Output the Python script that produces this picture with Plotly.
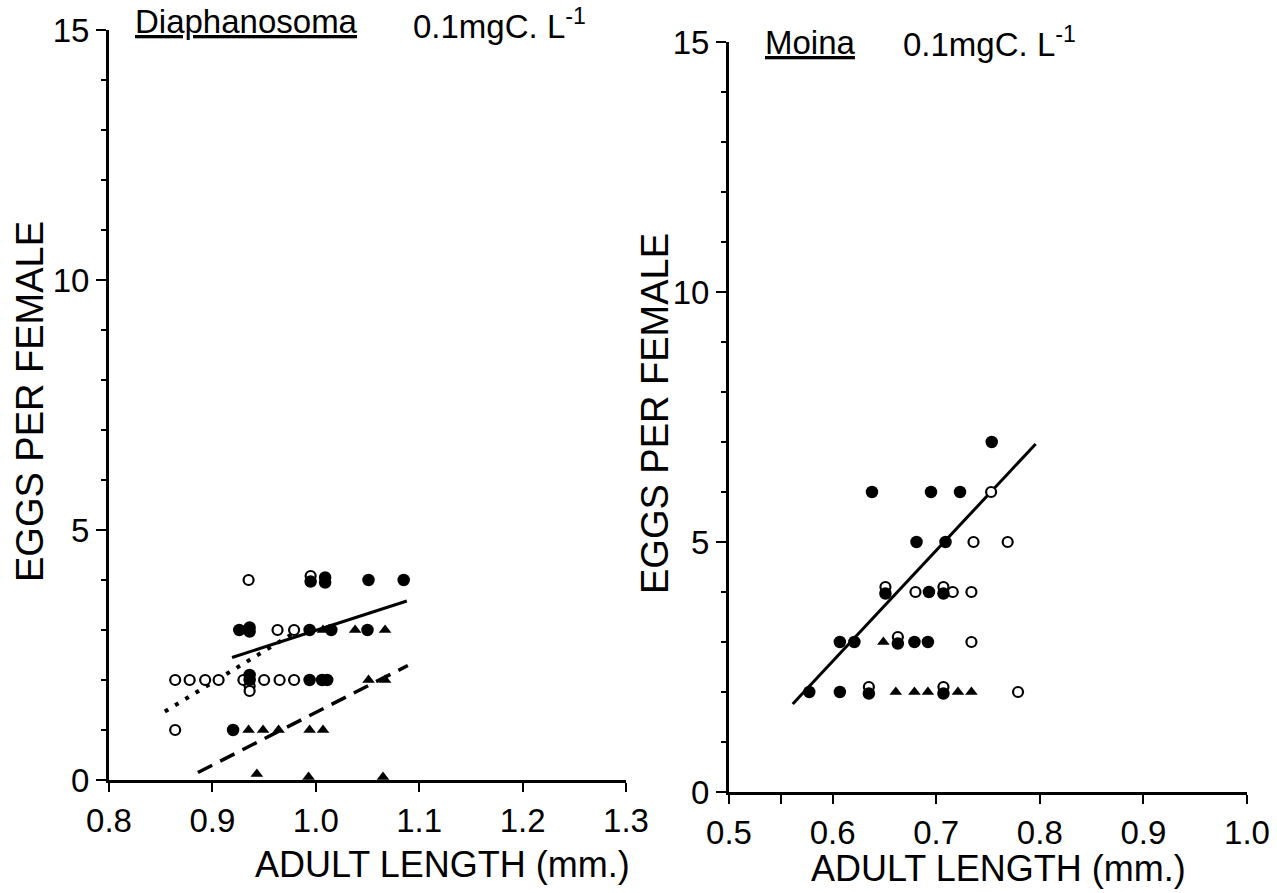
import plotly.graph_objects as go

W, H = 1277, 893
FONT = "Liberation Sans"

# ---- Diaphanosoma (0.1 mgC/L) ----
dia_open_x = [0.935, 0.995, 0.963, 0.979, 0.864, 0.878, 0.893, 0.906, 0.930,
              0.936, 0.936, 0.950, 0.965, 0.979, 0.864]
dia_open_y = [4.0, 4.08, 3.0, 3.0, 2.0, 2.0, 2.0, 2.0, 2.0,
              1.88, 1.78, 2.0, 2.0, 2.0, 1.0]

dia_fill_x = [0.995, 1.009, 1.009, 1.051, 1.085, 0.926, 0.936, 0.936, 0.994,
              1.015, 1.050, 0.936, 0.936, 0.994, 1.006, 1.011, 0.920]
dia_fill_y = [3.97, 4.05, 3.95, 4.0, 4.0, 3.0, 3.05, 2.97, 3.0,
              3.0, 3.0, 2.1, 2.0, 2.0, 2.0, 2.0, 1.0]

dia_tri_x = [1.007, 1.038, 1.067, 1.051, 1.067, 0.935, 0.949, 0.964, 0.994,
             1.007, 0.943, 0.993, 1.065]
dia_tri_y = [3.0, 3.0, 3.0, 2.0, 2.0, 1.0, 1.0, 1.0, 1.0,
             1.0, 0.12, 0.06, 0.06]

dia_solid_x, dia_solid_y = [0.919, 1.088], [2.45, 3.58]
dia_dot_x, dia_dot_y = [0.854, 0.978], [1.37, 2.93]
dia_dash_x, dia_dash_y = [0.886, 1.089], [0.15, 2.29]

# ---- Moina (0.1 mgC/L) ----
moi_open_x = [0.753, 0.736, 0.769, 0.651, 0.680, 0.707, 0.716, 0.734,
              0.734, 0.663, 0.635, 0.707, 0.779]
moi_open_y = [6.0, 5.0, 5.0, 4.1, 4.0, 4.1, 4.0, 4.0,
              3.0, 3.1, 2.1, 2.1, 2.0]

moi_fill_x = [0.7536, 0.638, 0.695, 0.723, 0.681, 0.709, 0.651, 0.693, 0.707,
              0.607, 0.621, 0.663, 0.679, 0.692, 0.5775, 0.607, 0.635, 0.707]
moi_fill_y = [7.0, 6.0, 6.0, 6.0, 5.0, 5.0, 3.97, 4.0, 3.97,
              3.0, 3.0, 2.97, 3.0, 3.0, 2.0, 2.0, 1.97, 1.97]

moi_tri_x = [0.649, 0.661, 0.679, 0.692, 0.721, 0.734]
moi_tri_y = [3.0, 2.0, 2.0, 2.0, 2.0, 2.0]

moi_line_x, moi_line_y = [0.5615, 0.796], [1.76, 6.96]

left_xticks = [0.8, 0.9, 1.0, 1.1, 1.2, 1.3]
right_xticks = [0.5, 0.55, 0.6, 0.7, 0.8, 0.9, 1.0]
right_xlabels = ["0.5", "", "0.6", "0.7", "0.8", "0.9", "1.0"]
yticks = [0, 5, 10, 15]

fig = go.Figure()


def add_panel(xa, ya, open_x, open_y, fill_x, fill_y, tri_x, tri_y, lines):
    for lx, ly, dash, lw in lines:
        fig.add_trace(go.Scatter(x=lx, y=ly, mode="lines", xaxis=xa, yaxis=ya,
                                 line=dict(color="black", width=lw, dash=dash),
                                 hoverinfo="skip", cliponaxis=False))
    fig.add_trace(go.Scatter(x=open_x, y=open_y, mode="markers", xaxis=xa, yaxis=ya,
                             marker=dict(symbol="circle", size=10, color="white",
                                         line=dict(color="black", width=2.2)),
                             cliponaxis=False))
    fig.add_trace(go.Scatter(x=fill_x, y=fill_y, mode="markers", xaxis=xa, yaxis=ya,
                             marker=dict(symbol="circle", size=12.5, color="black",
                                         line=dict(width=0)),
                             cliponaxis=False))
    fig.add_trace(go.Scatter(x=tri_x, y=tri_y, mode="markers", xaxis=xa, yaxis=ya,
                             marker=dict(symbol="triangle-up", size=11, color="black",
                                         line=dict(width=0)),
                             cliponaxis=False))


add_panel("x", "y", dia_open_x, dia_open_y, dia_fill_x, dia_fill_y, dia_tri_x, dia_tri_y,
          [(dia_solid_x, dia_solid_y, "solid", 3),
           (dia_dot_x, dia_dot_y, "4px,8px", 4),
           (dia_dash_x, dia_dash_y, "16px,9px", 3.5)])
add_panel("x2", "y2", moi_open_x, moi_open_y, moi_fill_x, moi_fill_y, moi_tri_x, moi_tri_y,
          [(moi_line_x, moi_line_y, "solid", 3)])

tickfont = dict(family=FONT, size=33, color="black")
common_x = dict(showgrid=False, zeroline=False, showline=True, linecolor="black",
                linewidth=3, ticks="outside", ticklen=9, tickwidth=2, tickcolor="black",
                tickfont=tickfont, tickformat=".1f", automargin=False)
common_y = dict(showgrid=False, zeroline=False, showline=True, linecolor="black",
                linewidth=3, ticks="outside", ticklen=10, tickwidth=2, tickcolor="black",
                tickfont=tickfont, range=[0, 15], tickvals=yticks, automargin=False,
                minor=dict(dtick=1, tick0=0, ticks="outside", ticklen=5, tickwidth=2,
                           tickcolor="black", showgrid=False))

fig.update_layout(
    width=W, height=H, margin=dict(l=0, r=0, t=0, b=0, autoexpand=False),
    paper_bgcolor="white", plot_bgcolor="white", showlegend=False,
    font=dict(family=FONT, color="black"),
    xaxis=dict(common_x, domain=[109 / W, 626 / W], range=[0.8, 1.3],
               tickvals=left_xticks, anchor="y"),
    yaxis=dict(common_y, domain=[1 - 780 / H, 1 - 30 / H], anchor="x"),
    xaxis2=dict(common_x, domain=[729 / W, 1247 / W], range=[0.5, 1.0],
                tickvals=right_xticks, ticktext=right_xlabels, anchor="y2"),
    yaxis2=dict(common_y, domain=[1 - 792 / H, 1 - 42 / H], anchor="x2"),
)


def note(text, x, y, size, xanchor="center", angle=0):
    fig.add_annotation(text=text, x=x / W, y=1 - y / H, xref="paper", yref="paper",
                       xanchor=xanchor, yanchor="middle", showarrow=False,
                       textangle=angle,
                       font=dict(family=FONT, size=size, color="black"))


note("EGGS PER FEMALE", 30, 402, 38, angle=-90)
note("EGGS PER FEMALE", 655, 414, 38, angle=-90)
note("ADULT LENGTH (mm.)", 442, 864, 36)
note("ADULT LENGTH (mm.)", 998, 868, 36)
note("<u>Diaphanosoma</u>", 133, 22, 33, xanchor="left")
note("0.1mgC. L<sup>-1</sup>", 411, 24, 33, xanchor="left")
note("<u>Moina</u>", 763, 42, 33, xanchor="left")
note("0.1mgC. L<sup>-1</sup>", 901, 42, 33, xanchor="left")

fig.write_html("out.html")
